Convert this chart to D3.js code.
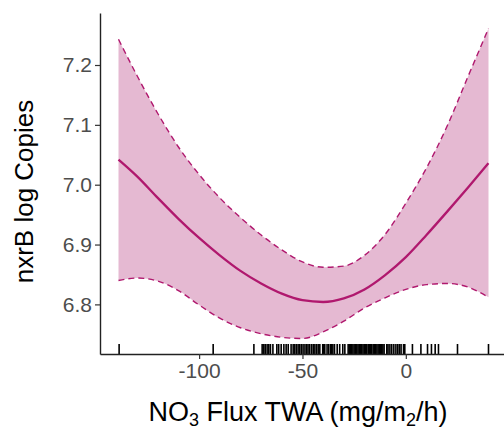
<!DOCTYPE html>
<html>
<head>
<meta charset="utf-8">
<script src="https://cdn.jsdelivr.net/npm/d3@7/dist/d3.min.js"></script>
<style>
body{margin:0;background:#fff;}
text{font-family:"Liberation Sans",Arial,sans-serif;}
</style>
</head>
<body>
<div id="chart"></div>
<script>
// values
var flux = [-139,-130,-120,-110,-100,-90,-80,-70,-60,-50,-40,-30,-20,-10,0,10,20,30,40];
var fit = [7.042,7.014,6.978,6.943,6.911,6.882,6.856,6.835,6.818,6.807,6.804,6.810,6.825,6.849,6.879,6.916,6.955,6.995,7.036];
var upper = [7.243,7.182,7.119,7.063,7.017,6.978,6.945,6.916,6.891,6.871,6.862,6.864,6.882,6.917,6.969,7.028,7.098,7.180,7.261];
var lower = [6.840,6.844,6.839,6.823,6.799,6.777,6.761,6.751,6.745,6.743,6.754,6.772,6.794,6.811,6.825,6.833,6.835,6.829,6.812];
var rug = [-138.7,-93.2,-73.5,-69.5,-68.7,-68.0,-67.1,-66.3,-65.5,-64.3,-62.4,-61.5,-60.3,-59.0,-57.9,-56.9,
  -55.5,-54.5,-53.7,-52.9,-52.1,-51.3,-50.5,-49.7,-48.8,-48.0,-47.3,-46.5,-45.6,-44.8,-44.0,-43.2,-42.4,
  -41.6,-40.2,-39.7,-39.2,-38.1,-37.3,-36.4,-36.0,-35.3,-34.5,-33.2,-32.0,-30.5,-29.5,-27.9,-27.3,-26.8,
  -26.2,-25.6,-25.0,-24.3,-23.7,-23.1,-22.5,-21.9,-21.3,-20.7,-20.1,-19.5,-18.9,-18.2,-17.7,-17.1,-16.5,
  -15.8,-15.2,-14.7,-14.0,-13.4,-12.8,-12.2,-11.7,-11.1,-10.5,-9.2,-8.6,-7.7,-6.8,-5.8,-4.8,-3.9,-3.1,
  -2.3,-1.1,-0.5,3.2,7.3,10.5,12.4,14.2,15.8,25,40];
var xTicks = [-100,-50,0];
var yTicks = [6.8,6.9,7.0,7.1,7.2];

var W = 504, H = 429;
var margin = {top: 13, right: -3, bottom: 75, left: 100};
var width = W - margin.left - margin.right,
    height = H - margin.top - margin.bottom;

var rows = flux.map(function(d,i){ return {x: d, fit: fit[i], lo: lower[i], hi: upper[i]}; });

var svg = d3.select("#chart")
  .append("svg")
    .attr("width", W)
    .attr("height", H)
    .style("overflow", "hidden");
var g = svg.append("g")
    .attr("transform", "translate(" + margin.left + "," + margin.top + ")");

// ggplot style 5% expansion
function expand(ext){ var d = (ext[1]-ext[0])*0.05; return [ext[0]-d, ext[1]+d]; }
var x = d3.scaleLinear()
  .domain(expand(d3.extent(flux.concat(rug))))
  .range([0, width]);
var y = d3.scaleLinear()
  .domain(expand([d3.min(lower), d3.max(upper)]))
  .range([height, 0]);

var col = "#b0186e";
var curve = d3.curveMonotoneX;

g.append("path")
  .datum(rows)
  .attr("fill", "#e5b9d2")
  .attr("d", d3.area().curve(curve)
    .x(function(d){ return x(d.x); })
    .y0(function(d){ return y(d.lo); })
    .y1(function(d){ return y(d.hi); }));

["lo","hi"].forEach(function(k){
  g.append("path")
    .datum(rows)
    .attr("fill", "none")
    .attr("stroke", col)
    .attr("stroke-width", 1.4)
    .attr("stroke-dasharray", "6,4")
    .attr("d", d3.line().curve(curve)
      .x(function(d){ return x(d.x); })
      .y(function(d){ return y(d[k]); }));
});

g.append("path")
  .datum(rows)
  .attr("fill", "none")
  .attr("stroke", col)
  .attr("stroke-width", 2.3)
  .attr("d", d3.line().curve(curve)
    .x(function(d){ return x(d.x); })
    .y(function(d){ return y(d.fit); }));

// rug
g.selectAll(".rug")
  .data(rug)
  .enter().append("line")
    .attr("class", "rug")
    .attr("x1", function(d){ return x(d); })
    .attr("x2", function(d){ return x(d); })
    .attr("y1", height - 10)
    .attr("y2", height)
    .attr("stroke", "#000")
    .attr("stroke-width", 1.6);

// axes
var xAxis = g.append("g")
  .attr("transform", "translate(0," + height + ")")
  .call(d3.axisBottom(x).tickValues(xTicks).tickSize(5).tickSizeOuter(0).tickPadding(4)
    .tickFormat(function(d){ return String(d); }));
var yAxis = g.append("g")
  .call(d3.axisLeft(y).tickValues(yTicks).tickSize(5).tickSizeOuter(0).tickPadding(3)
    .tickFormat(d3.format(".1f")));

[xAxis, yAxis].forEach(function(a){
  a.select(".domain").attr("stroke", "#222").attr("stroke-width", 1.4);
  a.selectAll(".tick line").attr("stroke", "#333").attr("stroke-width", 1.2);
  a.selectAll(".tick text")
    .attr("fill", "#4d4d4d")
    .style("font-size", "21px")
    .style("font-family", "'Liberation Sans',Arial,sans-serif");
});

// Y label
svg.append("text")
  .attr("transform", "translate(33," + (margin.top + height / 2 + 8) + ") rotate(-90)")
  .attr("text-anchor", "middle")
  .attr("font-size", "26px")
  .attr("fill", "#000")
  .text("nxrB log Copies");

// X label
var xt = svg.append("text")
  .attr("x", 298)
  .attr("y", 421)
  .attr("text-anchor", "middle")
  .attr("font-size", "27px")
  .attr("fill", "#000");
xt.append("tspan").text("NO");
xt.append("tspan").attr("dy", 5).attr("font-size", "18px").text("3");
xt.append("tspan").attr("dy", -5).text(" Flux TWA (mg/m");
xt.append("tspan").attr("dy", 5).attr("font-size", "18px").text("2");
xt.append("tspan").attr("dy", -5).text("/h)");
</script>
</body>
</html>
